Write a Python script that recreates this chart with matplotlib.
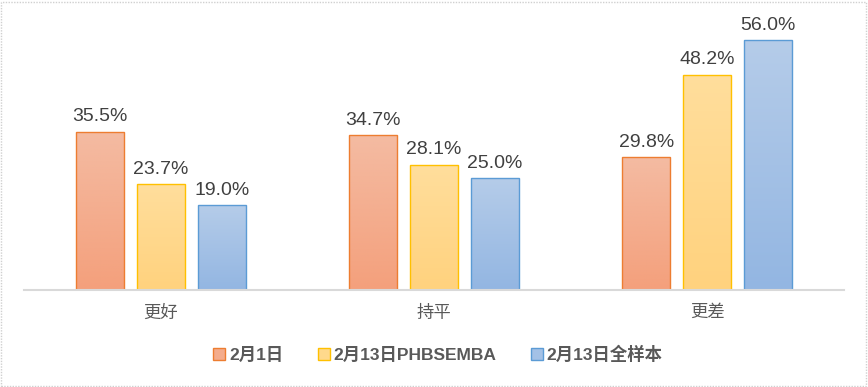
import matplotlib
matplotlib.use("Agg")
import matplotlib.pyplot as plt
import numpy as np
from matplotlib.colors import LinearSegmentedColormap
from matplotlib.patches import Rectangle

categories = ["更好", "持平", "更差"]
series_names = ["2月1日", "2月13日PHBSEMBA", "2月13日全样本"]
feb1 = [35.5, 34.7, 29.8]
feb13_phbs = [23.7, 28.1, 48.2]
feb13_all = [19.0, 25.0, 56.0]
series = [feb1, feb13_phbs, feb13_all]

edge_colors = ["#ED7D31", "#FFC000", "#5B9BD5"]
top_colors = ["#F4BBA2", "#FFDE9C", "#B5CCE9"]
bot_colors = ["#F4A07C", "#FFD27E", "#93B6E2"]
legend_fill = ["#F4AC8C", "#FFD98C", "#A4C1E6"]

plt.rcParams['font.family'] = ['Liberation Sans', 'Noto Sans CJK SC', 'DejaVu Sans']

fig = plt.figure(figsize=(8.68, 3.87), dpi=100)
ax = fig.add_axes([24/868, 1-290/387, 820/868, 270/387])

x = np.arange(len(categories))
w = 48/273.3
off = 61/273.3
for i, vals in enumerate(series):
    bars = ax.bar(x + (i-1)*off, vals, width=w, facecolor="none",
                  edgecolor=edge_colors[i], linewidth=1.0, zorder=3)
    cmap = LinearSegmentedColormap.from_list("g%d" % i, [bot_colors[i], top_colors[i]])
    for b, v in zip(bars, vals):
        x0 = b.get_x(); x1 = x0 + b.get_width()
        grad = np.linspace(0, 1, 100).reshape(-1, 1)
        im = ax.imshow(grad, cmap=cmap, origin="lower", aspect="auto",
                       extent=[x0, x1, 0, v], zorder=2)
        im.set_clip_path(b)
        ax.annotate(f"{v:.1f}%", (b.get_x()+b.get_width()/2, v), xytext=(0, 7.5),
                    textcoords="offset points", ha="center", va="baseline",
                    fontsize=14, color="#404040")

ax.set_xlim(-0.5, 2.5)
ax.set_ylim(0, 60.5)
ax.set_xticks(x)
ax.set_xticklabels(categories, fontsize=12.5, color="#595959")
ax.tick_params(axis="x", length=0, pad=10.5)
ax.set_yticks([])
for s in ["top", "right", "left"]:
    ax.spines[s].set_visible(False)
ax.spines["bottom"].set_color("#D9D9D9")
ax.spines["bottom"].set_linewidth(1.5)
ax.spines["bottom"].set_zorder(4)

handles = [Rectangle((0, 0), 1, 1, facecolor=legend_fill[i], edgecolor=edge_colors[i], linewidth=1.0)
           for i in range(3)]
leg = fig.legend(handles, series_names, loc="center", bbox_to_anchor=(438/868, 1-354/387),
                 ncol=3, frameon=False, handlelength=0.7, handleheight=0.7,
                 handletextpad=0.2, columnspacing=2.0,
                 prop={'size': 12.5, 'weight': 'bold', 'family': ['Liberation Sans', 'Noto Sans CJK SC']})
for t in leg.get_texts():
    t.set_color("#595959")

border = Rectangle((1/868, 1/387), 865/868, 384/387, transform=fig.transFigure,
                   facecolor="none", edgecolor="#D0D0D0", linewidth=1.0, linestyle=(0, (1, 1)))
fig.patches.append(border)

fig.savefig("out.png", dpi=100)
